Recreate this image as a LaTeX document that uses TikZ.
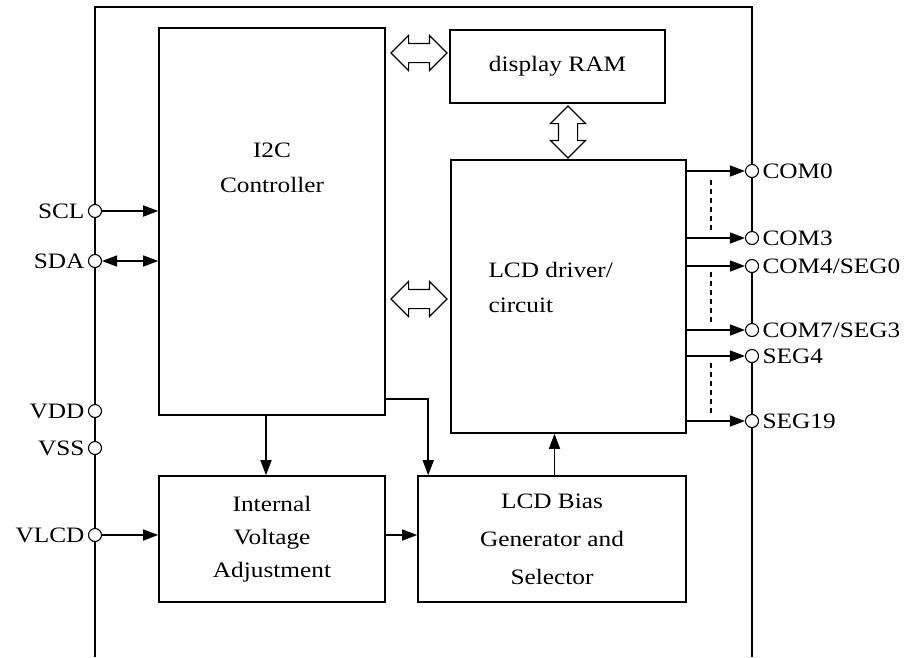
\documentclass[tikz,border=0pt]{standalone}
\usepackage{fontspec}
\setmainfont{Liberation Serif}[FakeStretch=1.15]
\usetikzlibrary{arrows.meta}
\usetikzlibrary{shapes.arrows}

\tikzset{
  block/.style={draw, line width=1.6pt, inner sep=0, align=center},
  pin/.style={circle, draw, fill=white, line width=1.1pt, inner sep=0, minimum size=13pt},
  chip/.style={line width=1.4pt},
  sig/.style={line width=1.5pt, -{Triangle[length=15pt,width=11pt]}},
  bisig/.style={line width=1.5pt, {Triangle[length=15pt,width=11pt]}-{Triangle[length=15pt,width=11pt]}},
  bus/.style={double arrow, draw, line width=1.1pt, inner xsep=0pt, inner ysep=9pt, minimum width=34pt, minimum height=56pt, double arrow head extend=8pt},
  dots/.style={line width=1.1pt, dash pattern=on 5pt off 4pt}
}

\begin{document}
\begin{tikzpicture}[x=1pt, y=-1pt, font=\fontsize{22}{35}\selectfont]
\useasboundingbox (0,0) rectangle (913,657);

% blocks
\node[block, minimum width=226, minimum height=387] (i2c) at (272,221.5) {};
\node[align=center] (i2c_text) at (272,168) {I2C\\Controller};
\node[block, minimum width=215, minimum height=73] (ram) at (557.5,66.5) {display RAM};
\node[block, minimum width=235, minimum height=273] (lcd) at (568.5,296.5) {};
\node[anchor=west, align=left] (lcd_text) at (485,287) {LCD driver/\\circuit};
\node[block, minimum width=226, minimum height=126, font=\fontsize{22}{33}\selectfont] (iva) at (272,539) {Internal\\Voltage\\Adjustment};
\node[block, minimum width=268, minimum height=126, font=\fontsize{22}{38}\selectfont] (bias) at (552,539) {LCD Bias\\Generator and\\Selector};

% pins
\node[pin, label=left:SCL] (scl) at (95,211) {};
\node[pin, label=left:SDA] (sda) at (95,261) {};
\node[pin, label=left:VDD] (vdd) at (95,411) {};
\node[pin, label=left:VSS] (vss) at (95,448) {};
\node[pin, label=left:VLCD] (vlcd) at (95,535) {};
\node[pin, label=right:COM0] (com0) at (752,171) {};
\node[pin, label=right:COM3] (com3) at (752,238) {};
\node[pin, label=right:COM4/SEG0] (com4) at (752,266) {};
\node[pin, label=right:COM7/SEG3] (com7) at (752,330) {};
\node[pin, label=right:SEG4] (seg4) at (752,356) {};
\node[pin, label=right:SEG19] (seg19) at (752,421) {};

% chip outline
\draw[chip] (95,657) -- (vlcd) -- (vss) -- (vdd) -- (sda) -- (scl) -- (95,7) -- (752,7) -- (com0) -- (com3);
\draw[chip] (com4) -- (com7);
\draw[chip] (seg4) -- (seg19) -- (752,657);

% buses
\node[bus] (ram_bus) at (419,53) {};
\node[bus] (drv_bus) at (419,299) {};
\node[bus, rotate=90, minimum height=52pt] (mem_bus) at (568,132) {};

% signals
\draw[sig] (scl) -- (scl -| i2c.west);
\draw[bisig] (sda) -- (sda -| i2c.west);
\draw[sig] (vlcd) -- (vlcd -| iva.west);
\draw[sig] ([xshift=-6pt]i2c.south) -- ([xshift=-6pt]iva.north);
\draw[sig] ([yshift=17pt]i2c.south east) -| ([xshift=11pt]bias.north west);
\draw[sig] ([yshift=4pt]iva.east) -- ([yshift=4pt]bias.west);
\draw[sig] ([xshift=-14pt]lcd.south |- bias.north) -- ([xshift=-14pt]lcd.south);
\foreach \p in {com0,com3,com4,com7,seg4,seg19}
  \draw[sig] (\p -| lcd.east) -- (\p);

% dashed links
\draw[dots] (711,180) -- (711,230);
\draw[dots] (711,272) -- (711,325);
\draw[dots] (711,363) -- (711,415);
\end{tikzpicture}
\end{document}
